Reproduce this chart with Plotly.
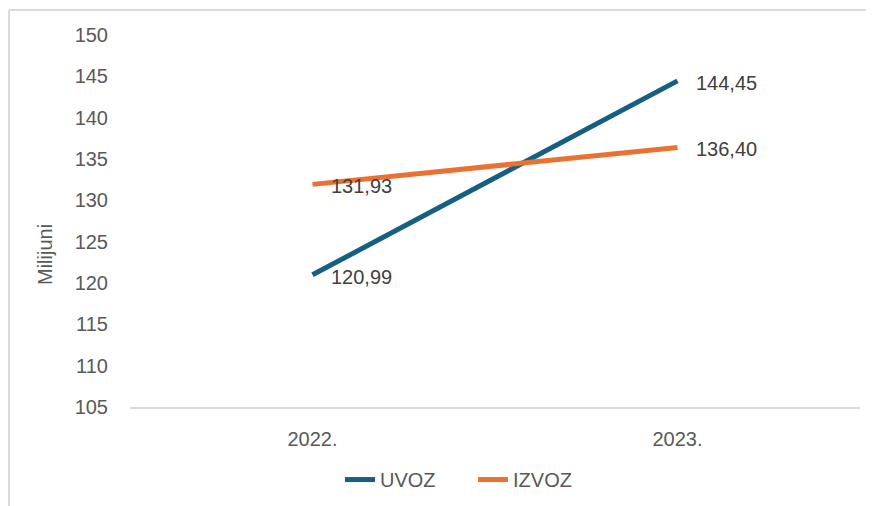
import plotly.graph_objects as go

categories = ["2022.", "2023."]
uvoz = [120.99, 144.45]
izvoz = [131.93, 136.40]
series_names = ["UVOZ", "IZVOZ"]
colors = ["#156082", "#E97132"]
y_ticks = [105, 110, 115, 120, 125, 130, 135, 140, 145, 150]

FONT = "Liberation Sans"
TXT = "#595959"

def fmt(v):
    return f"{v:.2f}".replace(".", ",")

fig = go.Figure()
for name, vals, col in zip(series_names, [uvoz, izvoz], colors):
    fig.add_trace(go.Scatter(
        x=[0, 1], y=vals, mode="lines", name=name,
        line=dict(color=col, width=5),
    ))
    for i, v in enumerate(vals):
        fig.add_annotation(
            x=i, y=v, xref="x", yref="y", text=fmt(v), showarrow=False,
            xanchor="left", yanchor="middle", xshift=16, yshift=-2,
            font=dict(family=FONT, size=20, color="#404040"),
        )

fig.add_annotation(
    x=-0.1164, y=0.4086, xref="paper", yref="paper", text="Milijuni",
    textangle=-90, showarrow=False, xanchor="center", yanchor="middle",
    font=dict(family=FONT, size=20, color=TXT),
)

# chart border (top and left)
fig.add_shape(type="line", xref="paper", yref="paper",
              x0=-0.1657, x1=1.03, y0=1.0672, y1=1.0672,
              line=dict(color="#d9d9d9", width=2))
fig.add_shape(type="line", xref="paper", yref="paper",
              x0=-0.1657, x1=-0.1657, y0=1.0672, y1=-0.30,
              line=dict(color="#d9d9d9", width=2))

fig.update_layout(
    width=866, height=498,
    margin=dict(l=122, r=14, t=27, b=99, autoexpand=False),
    paper_bgcolor="white", plot_bgcolor="white",
    font=dict(family=FONT, size=20, color=TXT),
    showlegend=True,
    legend=dict(orientation="h", x=0.2877, xanchor="left", y=-0.195, yanchor="middle",
                font=dict(family=FONT, size=20, color=TXT), itemwidth=30,
                entrywidth=88, entrywidthmode="pixels",
                tracegroupgap=0),
    xaxis=dict(
        range=[-0.5, 1.5], tickmode="array", tickvals=[0, 1], ticktext=categories,
        showgrid=False, zeroline=False, showline=True, linecolor="#d9d9d9", linewidth=2,
        ticks="", ticklabelstandoff=13,
    ),
    yaxis=dict(
        range=[105, 150], tickmode="array", tickvals=y_ticks,
        showgrid=False, zeroline=False, showline=False, ticks="",
        ticklabelstandoff=21,
    ),
)

fig.write_html("out.html")
